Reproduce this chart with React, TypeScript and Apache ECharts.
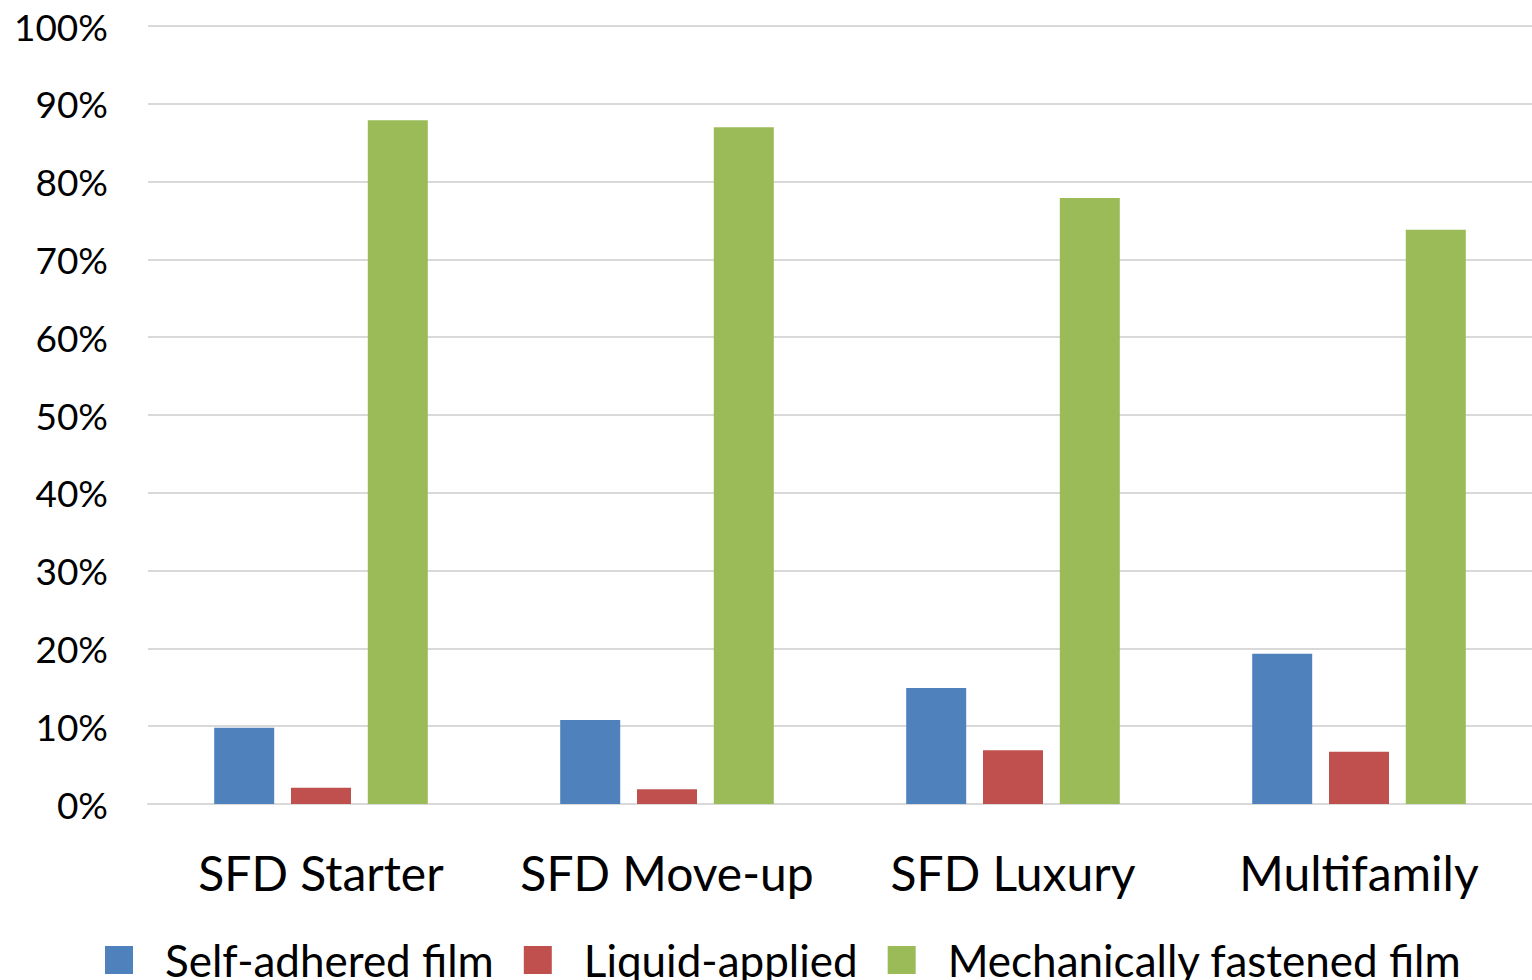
import React, { useEffect, useRef } from "react";
import * as echarts from "echarts";

const categories = ["SFD Starter", "SFD Move-up", "SFD Luxury", "Multifamily"];
const selfAdhered = [9.8, 10.8, 14.9, 19.3];
const liquidApplied = [2.1, 1.9, 6.9, 6.7];
const mechanicallyFastened = [87.9, 87.0, 77.9, 73.8];
const seriesNames = ["Self-adhered film", "Liquid-applied", "Mechanically fastened film"];
const colors = ["#4F81BD", "#C0504D", "#9BBB59"];

export default function App() {
  const ref = useRef<HTMLDivElement>(null);
  useEffect(() => {
    if (!ref.current) return;
    const chart = echarts.init(ref.current, null, { renderer: "svg" });
    const font = "Lato, 'Open Sans', sans-serif";
    const data = [selfAdhered, liquidApplied, mechanicallyFastened];
    chart.setOption({
      animation: false,
      backgroundColor: "#ffffff",
      color: colors,
      textStyle: { fontFamily: font },
      grid: { left: 148, right: -3, top: 26, bottom: 176, containLabel: false },
      legend: {
        left: 100,
        top: 933,
        itemWidth: 28,
        itemHeight: 28,
        itemGap: 30,
        icon: "rect",
        textStyle: { fontSize: 44, color: "#000", fontFamily: font, padding: [0, 0, 0, 27] },
        data: seriesNames,
      },
      xAxis: {
        type: "category",
        data: categories,
        axisLine: { show: true, lineStyle: { color: "#d9d9d9", width: 2 } },
        axisTick: { show: false },
        axisLabel: { interval: 0, fontSize: 48, color: "#000", margin: 44, fontFamily: font },
      },
      yAxis: {
        type: "value",
        min: 0,
        max: 100,
        interval: 10,
        axisLine: { show: false },
        axisTick: { show: false },
        axisLabel: { fontSize: 37, color: "#000", margin: 40, formatter: "{value}%", fontFamily: font },
        splitLine: { lineStyle: { color: "#d9d9d9", width: 2 } },
      },
      series: data.map((d, i) => ({
        name: seriesNames[i],
        type: "bar",
        data: d,
        barWidth: 60,
        barGap: "28%",
        itemStyle: { color: colors[i] },
      })),
    });
    return () => chart.dispose();
  }, []);
  return (
    <div
      ref={ref}
      style={{ position: "fixed", left: 0, top: 0, width: 1532, height: 980, background: "#fff" }}
    />
  );
}
